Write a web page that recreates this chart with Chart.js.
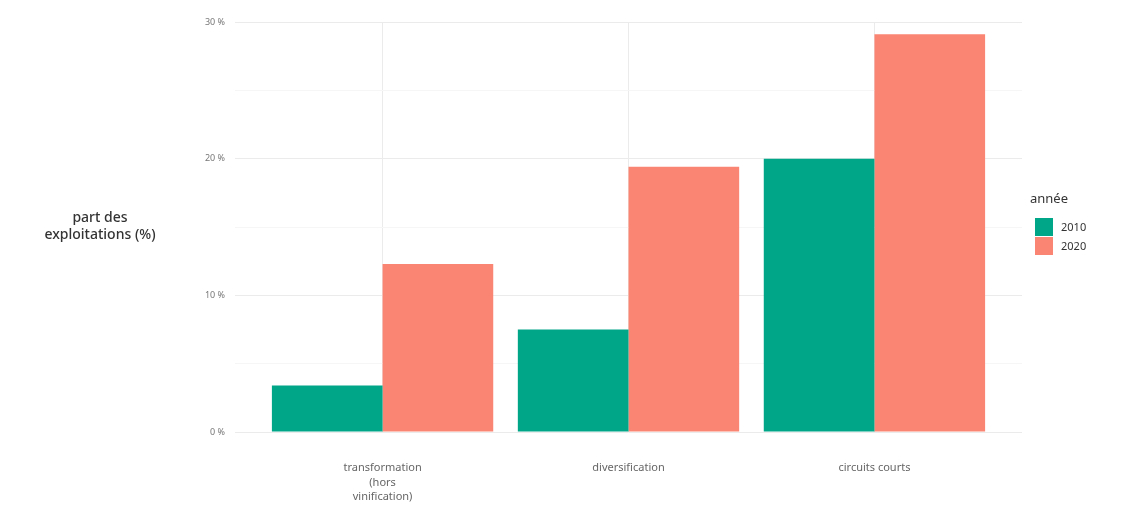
<!DOCTYPE html>
<html lang="fr">
<head>
<meta charset="utf-8">
<title>part des exploitations</title>
<script src="https://cdn.jsdelivr.net/npm/chart.js@4/dist/chart.umd.min.js"></script>
<style>
  html, body { margin: 0; padding: 0; background: #fff; }
  #wrap { width: 1137px; height: 517px; position: relative; }
</style>
</head>
<body>
<div id="wrap"><canvas id="chart" width="1137" height="517"></canvas></div>
<script>
// --- Data ---
const categories = [
  ['transformation', '(hors', 'vinification)'],
  'diversification',
  'circuits courts',
];
const years = ['2010', '2020'];
const values2010 = [3.4, 7.5, 20.0];
const values2020 = [12.3, 19.4, 29.1];
const yTicks = [0, 10, 20, 30];

const colors = ['#00A688', '#FB8573'];
const FONT = '"Noto Sans", Lato, sans-serif';

// y title drawn flat, left of the axis (like ggplot)
const yTitlePlugin = {
  id: 'yTitle',
  afterDraw(chart) {
    const { ctx, chartArea } = chart;
    const cy = (chartArea.top + chartArea.bottom) / 2;
    ctx.save();
    ctx.fillStyle = '#333';
    ctx.font = '500 14px ' + FONT;
    ctx.textAlign = 'center';
    ctx.textBaseline = 'middle';
    ctx.fillText('part des', 100, cy - 9);
    ctx.fillText('exploitations (%)', 100, cy + 8);
    ctx.restore();
  }
};

// legend at right: title + square keys
const legendPlugin = {
  id: 'sideLegend',
  afterDraw(chart) {
    const { ctx } = chart;
    const x = 1035, y0 = 218, size = 18;
    ctx.save();
    ctx.fillStyle = '#333';
    ctx.font = '13px ' + FONT;
    ctx.textBaseline = 'middle';
    ctx.fillText('année', 1030, 199);
    chart.data.datasets.forEach((ds, i) => {
      const y = y0 + i * (size + 1);
      ctx.fillStyle = ds.backgroundColor;
      ctx.fillRect(x, y, size, size);
      ctx.fillStyle = '#333';
      ctx.font = '11px ' + FONT;
      ctx.fillText(ds.label, x + size + 8, y + size / 2 + 1);
    });
    ctx.restore();
  }
};

const toPoints = (vals) => vals.map((v, i) => ({ x: i + 1, y: v }));

new Chart(document.getElementById('chart'), {
  type: 'bar',
  data: {
    datasets: years.map((yr, i) => ({
      label: yr,
      data: toPoints(i === 0 ? values2010 : values2020),
      backgroundColor: colors[i],
      borderWidth: 0,
      categoryPercentage: 0.9,
      barPercentage: 1.0,
    })),
  },
  options: {
    responsive: false,
    animation: false,
    layout: { padding: { top: 22, right: 115, left: 0, bottom: 0 } },
    plugins: {
      legend: { display: false },
      tooltip: { enabled: false },
    },
    scales: {
      x: {
        type: 'linear',
        min: 0.4,
        max: 3.6,
        offset: false,
        afterBuildTicks(scale) {
          scale.ticks = categories.map((c, i) => ({ value: i + 1 }));
        },
        afterFit(scale) { scale.height = 85; },
        ticks: {
          autoSkip: false,
          maxRotation: 0,
          padding: 29,
          color: '#666',
          font: { family: FONT, size: 11, lineHeight: 1.3 },
          callback: (v) => categories[v - 1],
        },
        grid: { color: '#ebebeb', lineWidth: 1, drawTicks: false, offset: false },
        border: { display: false },
      },
      y: {
        min: 0,
        max: 30,
        afterBuildTicks(scale) {
          scale.ticks = [0, 5, 10, 15, 20, 25, 30].map(v => ({ value: v }));
        },
        afterFit(scale) { scale.width = 235; },
        ticks: {
          padding: 10,
          color: '#777',
          font: { family: FONT, size: 9 },
          callback: (v) => yTicks.includes(v) ? v + ' %' : '',
        },
        grid: {
          drawTicks: false,
          color: (c) => (c.tick && c.tick.value % 10 === 0) ? '#ebebeb' : '#f6f6f6',
          lineWidth: 1,
        },
        border: { display: false },
      },
    },
  },
  plugins: [yTitlePlugin, legendPlugin],
});
</script>
</body>
</html>
